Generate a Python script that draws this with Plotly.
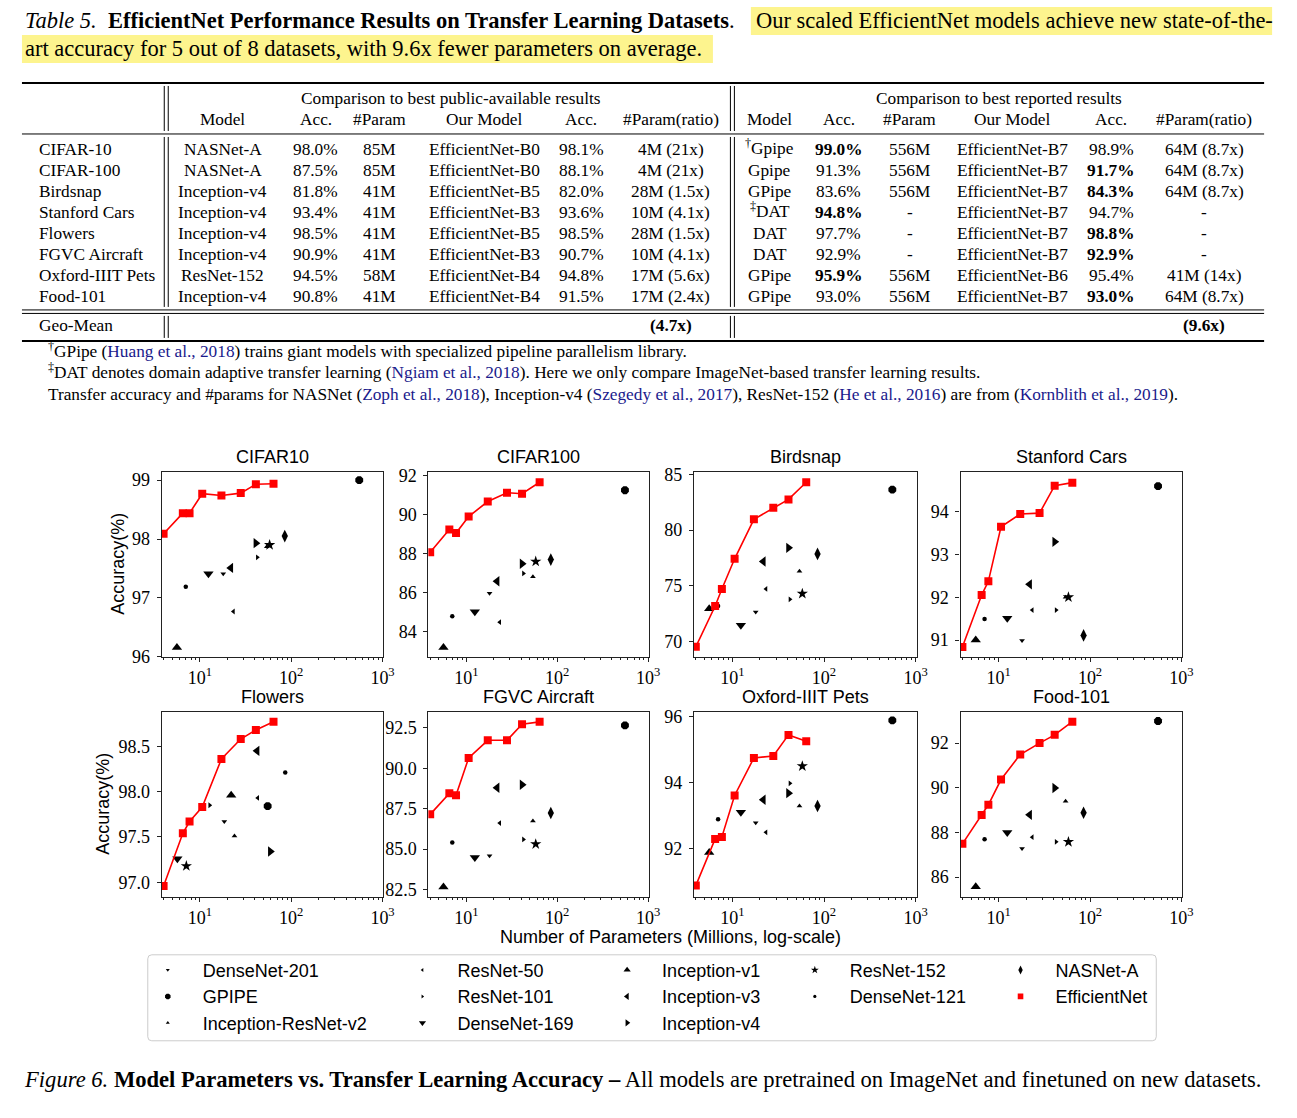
import plotly.graph_objects as go

W, H = 1297, 1118
SERIF = "Liberation Serif, Times New Roman, serif"
SANS = "Liberation Sans, Arial, sans-serif"
CITE = "#1a1a8c"

# small correction for the capture (measured: x' = 0.993x, y' = 0.985y + 7)
SX, SY, OY = 0.993, 0.985, 7.0


def fx(x):
    return (x / SX) / W


def fy(y):
    return 1 - ((y - OY) / SY) / H


# ---------------- table data ----------------
datasets = ["CIFAR-10", "CIFAR-100", "Birdsnap", "Stanford Cars", "Flowers",
            "FGVC Aircraft", "Oxford-IIIT Pets", "Food-101"]
header_cols = ["Model", "Acc.", "#Param", "Our Model", "Acc.", "#Param(ratio)"]
pub_model = ["NASNet-A", "NASNet-A", "Inception-v4", "Inception-v4", "Inception-v4",
             "Inception-v4", "ResNet-152", "Inception-v4"]
pub_acc = ["98.0%", "87.5%", "81.8%", "93.4%", "98.5%", "90.9%", "94.5%", "90.8%"]
pub_param = ["85M", "85M", "41M", "41M", "41M", "41M", "58M", "41M"]
pub_our = ["EfficientNet-B0", "EfficientNet-B0", "EfficientNet-B5", "EfficientNet-B3",
           "EfficientNet-B5", "EfficientNet-B3", "EfficientNet-B4", "EfficientNet-B4"]
pub_our_acc = ["98.1%", "88.1%", "82.0%", "93.6%", "98.5%", "90.7%", "94.8%", "91.5%"]
pub_ratio = ["4M (21x)", "4M (21x)", "28M (1.5x)", "10M (4.1x)", "28M (1.5x)",
             "10M (4.1x)", "17M (5.6x)", "17M (2.4x)"]
rep_model = ["<sup>†</sup>Gpipe", "Gpipe", "GPipe", "<sup>‡</sup>DAT", "DAT", "DAT",
             "GPipe", "GPipe"]
rep_acc = ["99.0%", "91.3%", "83.6%", "94.8%", "97.7%", "92.9%", "95.9%", "93.0%"]
rep_acc_bold = [True, False, False, True, False, False, True, False]
rep_param = ["556M", "556M", "556M", "-", "-", "-", "556M", "556M"]
rep_our = ["EfficientNet-B7", "EfficientNet-B7", "EfficientNet-B7", "EfficientNet-B7",
           "EfficientNet-B7", "EfficientNet-B7", "EfficientNet-B6", "EfficientNet-B7"]
rep_our_acc = ["98.9%", "91.7%", "84.3%", "94.7%", "98.8%", "92.9%", "95.4%", "93.0%"]
rep_our_acc_bold = [False, True, True, False, True, True, False, True]
rep_ratio = ["64M (8.7x)", "64M (8.7x)", "64M (8.7x)", "-", "-", "-", "41M (14x)",
             "64M (8.7x)"]
geo_mean = ["(4.7x)", "(9.6x)"]

# ---------------- plot data ----------------
plot_titles = ["CIFAR10", "CIFAR100", "Birdsnap", "Stanford Cars",
               "Flowers", "FGVC Aircraft", "Oxford-IIIT Pets", "Food-101"]
x_tick_vals = [10, 100, 1000]
x_tick_text = ["10<sup>1</sup>", "10<sup>2</sup>", "10<sup>3</sup>"]
x_minor_vals = [2, 3, 4, 5, 6, 7, 8, 9, 20, 30, 40, 50, 60, 70, 80, 90,
                200, 300, 400, 500, 600, 700, 800, 900]
y_dticks = [1, 2, 5, 1, 0.5, 2.5, 2, 2]
y_tickformats = ["d", "d", "d", "d", ".1f", ".1f", "d", "d"]

# order of values in every list: CIFAR10, CIFAR100, Birdsnap, Stanford Cars,
# Flowers, FGVC Aircraft, Oxford-IIIT Pets, Food-101
params_densenet201 = [18, 18, 18, 18, 18.5, 18, 18, 18]
acc_densenet201 = [97.41, 85.97, 72.66, 90.99, 97.67, 84.59, 92.78, 87.28]
params_gpipe = [556, 556, 556, 556, 55.2, 556, 556, 556]
acc_gpipe = [99.0, 91.25, 83.62, 94.59, 97.84, 92.65, 95.89, 92.99]
params_incresv2 = [54, 54, 54, 54, 23.9, 54, 54, 54]
acc_incresv2 = [97.87, 86.81, 76.32, 92.0, 97.51, 86.74, 93.29, 89.4]
params_resnet50 = [23.3, 23.3, 23.3, 23.3, 43, 23.3, 23.3, 23.3]
acc_resnet50 = [96.77, 84.48, 74.73, 91.7, 97.93, 86.61, 92.49, 87.79]
params_resnet101 = [42.5, 42.5, 42.5, 42.5, 12.8, 42.5, 42.5, 42.5]
acc_resnet101 = [97.69, 86.98, 73.8, 91.7, 97.85, 85.6, 93.98, 87.58]
params_densenet169 = [12.4, 12.4, 12.4, 12.4, 5.66, 12.4, 12.4, 12.4]
acc_densenet169 = [97.41, 85.01, 71.47, 91.51, 97.26, 84.48, 93.1, 88.0]
params_inception_v1 = [5.6, 5.6, 5.6, 5.6, 22, 5.6, 5.6, 5.6]
acc_inception_v1 = [96.16, 83.18, 72.96, 91.0, 97.96, 82.66, 91.88, 85.57]
params_inception_v3 = [21.8, 21.8, 21.8, 21.8, 42.3, 21.8, 21.8, 21.8]
acc_inception_v3 = [97.51, 86.58, 77.19, 92.3, 98.45, 88.8, 93.48, 88.79]
params_inception_v4 = [41, 41, 41, 41, 59, 41, 41, 41]
acc_inception_v4 = [97.93, 87.48, 78.41, 93.29, 97.34, 88.98, 93.68, 89.99]
params_resnet152 = [58, 58, 58, 58, 7.1, 58, 58, 58]
acc_resnet152 = [97.9, 87.59, 74.31, 92.0, 97.18, 85.31, 94.5, 87.58]
params_densenet121 = [7.0, 7.0, 7.0, 7.0, 86, 7.0, 7.0, 7.0]
acc_densenet121 = [97.19, 84.79, 73.2, 91.49, 98.21, 85.41, 92.89, 87.7]
params_nasnet = [85, 85, 85, 85, None, 85, 85, 85]
acc_nasnet = [98.05, 87.69, 77.87, 91.11, None, 87.23, 93.29, 88.88]

effnet_params = [4, 6.5, 7.7, 10.6, 17.2, 28, 41, 64]
effnet_cifar10 = [98.09, 98.44, 98.44, 98.77, 98.74, 98.78, 98.93, 98.94]
effnet_cifar100 = [88.07, 89.24, 89.05, 89.9, 90.67, 91.12, 91.07, 91.66]
effnet_birdsnap = [69.55, 73.2, 74.73, 77.43, 80.96, 82.0, 82.75, 84.28]
effnet_cars = [90.84, 92.05, 92.37, 93.64, 93.94, 93.96, 94.6, 94.67]
effnet_flowers = [96.96, 97.54, 97.67, 97.83, 98.36, 98.58, 98.68, 98.77]
effnet_fgvc = [87.15, 88.45, 88.33, 90.64, 91.73, 91.73, 92.73, 92.87]
effnet_pets = [90.87, 92.29, 92.35, 93.61, 94.75, 94.81, 95.45, 95.26]
effnet_food = [87.49, 88.78, 89.24, 90.37, 91.49, 92.0, 92.37, 92.96]
effnet_acc = [effnet_cifar10, effnet_cifar100, effnet_birdsnap, effnet_cars,
              effnet_flowers, effnet_fgvc, effnet_pets, effnet_food]

# (name, params, acc, symbol, size, legend)
models = [
    ("DenseNet-201", params_densenet201, acc_densenet201, "triangle-down", 5, "legend"),
    ("GPIPE", params_gpipe, acc_gpipe, "octagon", 8.5, "legend"),
    ("Inception-ResNet-v2", params_incresv2, acc_incresv2, "triangle-up", 5, "legend"),
    ("ResNet-50", params_resnet50, acc_resnet50, "triangle-left", 5, "legend2"),
    ("ResNet-101", params_resnet101, acc_resnet101, "triangle-right", 5, "legend2"),
    ("DenseNet-169", params_densenet169, acc_densenet169, "triangle-down", 9, "legend2"),
    ("Inception-v1", params_inception_v1, acc_inception_v1, "triangle-up", 9, "legend3"),
    ("Inception-v3", params_inception_v3, acc_inception_v3, "triangle-left", 9, "legend3"),
    ("Inception-v4", params_inception_v4, acc_inception_v4, "triangle-right", 9, "legend3"),
    ("ResNet-152", params_resnet152, acc_resnet152, "star", 8.5, "legend4"),
    ("DenseNet-121", params_densenet121, acc_densenet121, "circle", 4.5, "legend4"),
    ("NASNet-A", params_nasnet, acc_nasnet, "diamond-tall", 9, "legend5"),
]
EFF_SIZE = 8
LEGEND_MARKER_SCALE = 0.7

# ---------------- layout geometry (pixels) ----------------
col_left = [162, 429, 695, 962]
col_right = [384, 650, 918, 1184]
row_top = [472, 712]
row_bot = [657, 897]
y_ranges = [[96.0, 99.14], [82.7, 92.19], [68.65, 85.21], [90.61, 94.92],
            [96.84, 98.88], [82.05, 93.49], [90.53, 96.15], [85.12, 93.40]]
x_range_log = [0.582, 3.01]

fig = go.Figure()
layout = dict(
    width=W, height=H, margin=dict(l=0, r=0, t=0, b=0),
    paper_bgcolor="white", plot_bgcolor="white",
    font=dict(family=SERIF, size=18, color="black"),
    showlegend=True,
)

# legend entries (smaller symbols than in the panels, as in the reference)
for name, prm, acc, sym, size, leg in models:
    fig.add_trace(go.Scatter(
        x=[None], y=[None], mode="markers", name=name, legendgroup=name, legend=leg,
        marker=dict(symbol=sym, size=size * LEGEND_MARKER_SCALE, color="black"),
        xaxis="x", yaxis="y", showlegend=True, hoverinfo="skip"))
fig.add_trace(go.Scatter(
    x=[None], y=[None], mode="markers", name="EfficientNet", legendgroup="EfficientNet",
    legend="legend5", marker=dict(symbol="square", size=EFF_SIZE * LEGEND_MARKER_SCALE,
                                  color="#ff0000"),
    xaxis="x", yaxis="y", showlegend=True, hoverinfo="skip"))

for d in range(8):
    r, c = divmod(d, 4)
    xa = "x" if d == 0 else f"x{d+1}"
    ya = "y" if d == 0 else f"y{d+1}"
    layout["xaxis" if d == 0 else f"xaxis{d+1}"] = dict(
        domain=[fx(col_left[c]), fx(col_right[c])], anchor=ya, type="log",
        range=x_range_log, tickvals=x_tick_vals, ticktext=x_tick_text,
        ticks="outside", ticklen=4, tickwidth=1, tickcolor="#222",
        minor=dict(tickvals=x_minor_vals, ticks="outside", ticklen=2.5,
                   tickwidth=0.8, tickcolor="#222", showgrid=False),
        showline=True, mirror=True, linecolor="#222", linewidth=1.2,
        showgrid=False, zeroline=False, ticklabelstandoff=0,
        tickfont=dict(family=SERIF, size=18, color="black"),
    )
    layout["yaxis" if d == 0 else f"yaxis{d+1}"] = dict(
        domain=[fy(row_bot[r]), fy(row_top[r])], anchor=xa,
        range=y_ranges[d], dtick=y_dticks[d], tick0=0,
        tickformat=y_tickformats[d],
        ticks="outside", ticklen=4, tickwidth=1, tickcolor="#222",
        showline=True, mirror=True, linecolor="#222", linewidth=1.2,
        showgrid=False, zeroline=False, ticklabelstandoff=3,
        tickfont=dict(family=SERIF, size=18, color="black"),
    )

    for name, prm, acc, sym, size, leg in models:
        if prm[d] is None or acc[d] is None:
            continue
        fig.add_trace(go.Scatter(
            x=[prm[d]], y=[acc[d]], mode="markers", name=name,
            marker=dict(symbol=sym, size=size, color="black"),
            xaxis=xa, yaxis=ya, legendgroup=name, legend=leg,
            showlegend=False,
        ))
    fig.add_trace(go.Scatter(
        x=effnet_params, y=effnet_acc[d], mode="lines",
        line=dict(color="#ff0000", width=1.6), xaxis=xa, yaxis=ya,
        legendgroup="EfficientNet", legend="legend5", showlegend=False, hoverinfo="skip",
    ))
    fig.add_trace(go.Scatter(
        x=effnet_params, y=effnet_acc[d], mode="markers", name="EfficientNet",
        marker=dict(symbol="square", size=EFF_SIZE, color="#ff0000"),
        xaxis=xa, yaxis=ya, legendgroup="EfficientNet", legend="legend5",
        showlegend=False,
    ))

# legends: five columns
legend_text_x = [203, 458, 663, 851, 1057]
legend_top = 952
for i, tx in enumerate(legend_text_x):
    key = "legend" if i == 0 else f"legend{i+1}"
    layout[key] = dict(
        x=fx(tx - 70), y=fy(legend_top), xanchor="left", yanchor="top",
        orientation="v", bgcolor="rgba(0,0,0,0)", borderwidth=0,
        itemwidth=60, tracegroupgap=0,
        font=dict(family=SANS, size=18, color="black"),
    )

annotations = []
shapes = []


def ann(x, y, text, size=17.3, family=SERIF, xanchor="center", color="black", **kw):
    if "<sup>" in text:
        y -= 2.5
    annotations.append(dict(
        x=fx(x), y=fy(y), xref="paper", yref="paper", text=text,
        showarrow=False, xanchor=xanchor, yanchor="middle",
        font=dict(family=family, size=size, color=color), **kw))


def hline(x0, x1, y, width=1):
    shapes.append(dict(type="line", xref="paper", yref="paper",
                       x0=fx(x0), x1=fx(x1), y0=fy(y), y1=fy(y),
                       line=dict(color="black", width=width)))


def vline(x, y0, y1, width=1):
    shapes.append(dict(type="line", xref="paper", yref="paper",
                       x0=fx(x), x1=fx(x), y0=fy(y0), y1=fy(y1),
                       line=dict(color="black", width=width)))


# subplot titles and axis labels
title_y = [457, 697]
for d in range(8):
    r, c = divmod(d, 4)
    ann((col_left[c] + col_right[c]) / 2, title_y[r], plot_titles[d], size=18, family=SANS)
ann(118, 564, "Accuracy(%)", size=18, family=SANS, textangle=-90)
ann(103, 804, "Accuracy(%)", size=18, family=SANS, textangle=-90)
ann(672, 937, "Number of Parameters (Millions, log-scale)", size=18, family=SANS)

# legend frame
lx0, lx1, ly0, ly1, rr = 148, 1158, 955, 1041, 4
shapes.append(dict(
    type="path", xref="paper", yref="paper",
    path=(f"M {fx(lx0+rr)} {fy(ly0)} L {fx(lx1-rr)} {fy(ly0)} "
          f"Q {fx(lx1)} {fy(ly0)} {fx(lx1)} {fy(ly0+rr)} L {fx(lx1)} {fy(ly1-rr)} "
          f"Q {fx(lx1)} {fy(ly1)} {fx(lx1-rr)} {fy(ly1)} L {fx(lx0+rr)} {fy(ly1)} "
          f"Q {fx(lx0)} {fy(ly1)} {fx(lx0)} {fy(ly1-rr)} L {fx(lx0)} {fy(ly0+rr)} "
          f"Q {fx(lx0)} {fy(ly0)} {fx(lx0+rr)} {fy(ly0)} Z"),
    line=dict(color="#cccccc", width=1), fillcolor="rgba(0,0,0,0)"))

# table caption with highlight
for x0, x1, y0, y1 in [(752, 1274, 7, 35), (22, 714, 35, 63)]:
    shapes.append(dict(type="rect", xref="paper", yref="paper", layer="below",
                       x0=fx(x0), x1=fx(x1), y0=fy(y1), y1=fy(y0),
                       fillcolor="#fdf48e", line=dict(width=0)))
ann(23, 21, "<i>Table 5.</i>&nbsp; <b>EfficientNet Performance Results on Transfer Learning Datasets</b>.",
    size=22.5, xanchor="left")
ann(755, 21, "Our scaled EfficientNet models achieve new state-of-the-", size=22.5, xanchor="left")
ann(23, 49, "art accuracy for 5 out of 8 datasets, with 9.6x fewer parameters on average.",
    size=22.5, xanchor="left")

# table rules
hline(22, 1266, 83, 2)
hline(22, 1266, 134, 1)
hline(22, 1266, 310, 1)
hline(22, 1266, 313.5, 1)
hline(22, 1266, 341, 2)
for vx in [164.5, 168.5, 731.5, 735.5]:
    vline(vx, 86, 131)
    vline(vx, 137, 307)
    vline(vx, 316, 338)

# table header
ann(452, 99, "Comparison to best public-available results")
ann(1000, 99, "Comparison to best reported results")
left_cols = [223, 316, 380, 485, 582, 672]
right_cols = [771, 840, 911, 1014, 1113, 1206]
for cx, t in zip(left_cols, header_cols):
    ann(cx, 120, t)
for cx, t in zip(right_cols, header_cols):
    ann(cx, 120, t)

# table body
for i in range(8):
    y = 150 + 21 * i
    ann(37, y, datasets[i], xanchor="left")
    left_vals = [pub_model[i], pub_acc[i], pub_param[i], pub_our[i], pub_our_acc[i], pub_ratio[i]]
    for cx, t in zip(left_cols, left_vals):
        ann(cx, y, t)
    right_vals = [rep_model[i],
                  f"<b>{rep_acc[i]}</b>" if rep_acc_bold[i] else rep_acc[i],
                  rep_param[i], rep_our[i],
                  f"<b>{rep_our_acc[i]}</b>" if rep_our_acc_bold[i] else rep_our_acc[i],
                  rep_ratio[i]]
    for cx, t in zip(right_cols, right_vals):
        ann(cx, y, t)
ann(37, 326, "Geo-Mean", xanchor="left")
ann(left_cols[-1], 326, f"<b>{geo_mean[0]}</b>")
ann(right_cols[-1], 326, f"<b>{geo_mean[1]}</b>")

# footnotes
fn = 17.3
ann(46, 353, f"<sup>†</sup>GPipe (<span style='color:{CITE}'>Huang et al., 2018</span>) "
             "trains giant models with specialized pipeline parallelism library.",
    size=fn, xanchor="left")
ann(46, 374, f"<sup>‡</sup>DAT denotes domain adaptive transfer learning "
             f"(<span style='color:{CITE}'>Ngiam et al., 2018</span>). "
             "Here we only compare ImageNet-based transfer learning results.",
    size=fn, xanchor="left")
ann(46, 395, f"Transfer accuracy and #params for NASNet (<span style='color:{CITE}'>Zoph et al., 2018</span>), "
             f"Inception-v4 (<span style='color:{CITE}'>Szegedy et al., 2017</span>), "
             f"ResNet-152 (<span style='color:{CITE}'>He et al., 2016</span>) are from "
             f"(<span style='color:{CITE}'>Kornblith et al., 2019</span>).",
    size=fn, xanchor="left")

# figure caption
ann(22, 1080, "<i>Figure 6.</i> <b>Model Parameters vs. Transfer Learning Accuracy –</b> "
              "All models are pretrained on ImageNet and finetuned on new datasets.",
    size=22.6, xanchor="left")

layout["annotations"] = annotations
layout["shapes"] = shapes
fig.update_layout(**layout)
fig.write_html("out.html", config={"displayModeBar": False},
               post_script="document.body.style.margin='0px';document.body.style.overflow='hidden';")
